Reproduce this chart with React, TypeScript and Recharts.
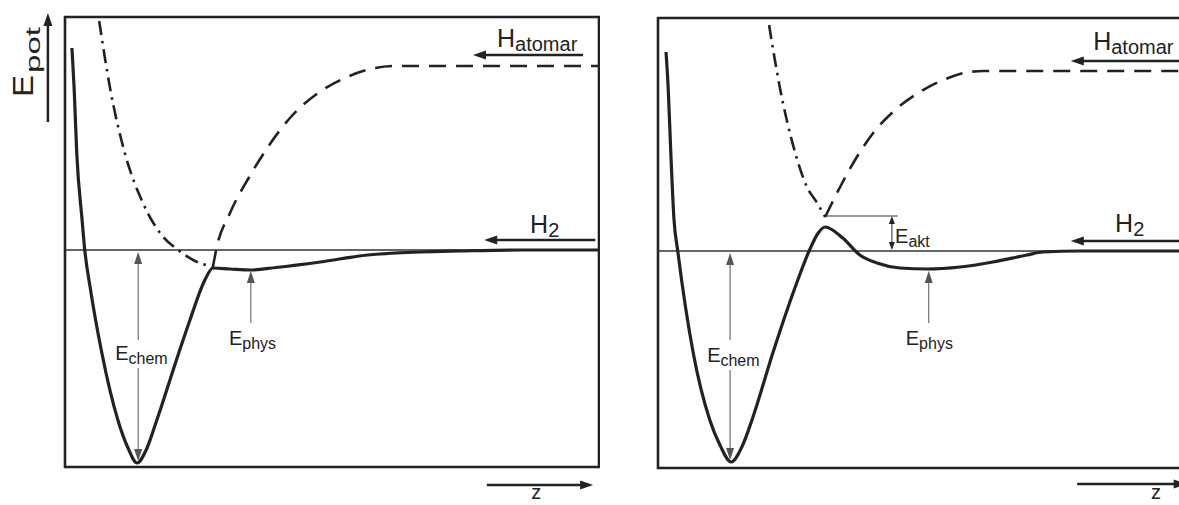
import React from 'react';
import { LineChart, Line, XAxis, YAxis, ReferenceArea, ReferenceLine, ReferenceDot } from 'recharts';

type Pt = { z: number; e: number };

const INK = '#222';
const THIN = '#555';
const FONT = '"Liberation Sans", Arial, Helvetica, sans-serif';

const Z_DOMAIN: [number, number] = [0, 10];
const E_DOMAIN: [number, number] = [-4.34, 4.66];

// left: chemisorption well meets the physisorption well below the H2 level
const leftSolid: Pt[] = [
  { z: 0.13, e: 4.04 }, { z: 0.17, e: 3.26 }, { z: 0.22, e: 1.94 }, { z: 0.32, e: 0.6 },
  { z: 0.37, e: 0 }, { z: 0.47, e: -0.74 }, { z: 0.69, e: -2.06 }, { z: 0.99, e: -3.4 },
  { z: 1.18, e: -3.96 }, { z: 1.35, e: -4.26 }, { z: 1.52, e: -4.0 }, { z: 1.72, e: -3.4 },
  { z: 2.13, e: -2.06 }, { z: 2.34, e: -1.4 }, { z: 2.62, e: -0.6 }, { z: 2.77, e: -0.36 },
  { z: 3.09, e: -0.38 }, { z: 3.48, e: -0.4 }, { z: 3.95, e: -0.35 }, { z: 4.78, e: -0.24 },
  { z: 5.67, e: -0.1 }, { z: 6.65, e: -0.04 }, { z: 7.4, e: -0.02 }, { z: 8.52, e: 0 },
  { z: 10, e: 0 },
];
const leftRepulsive: Pt[] = [
  { z: 0.64, e: 4.58 }, { z: 0.84, e: 3.26 }, { z: 1.12, e: 1.94 }, { z: 1.46, e: 0.94 },
  { z: 1.84, e: 0.26 }, { z: 2.12, e: 0 }, { z: 2.4, e: -0.2 }, { z: 2.77, e: -0.34 },
];
const leftAtomic: Pt[] = [
  { z: 2.77, e: -0.34 }, { z: 2.83, e: 0 }, { z: 3.09, e: 0.74 }, { z: 3.45, e: 1.46 },
  { z: 3.8, e: 2.06 }, { z: 4.23, e: 2.66 }, { z: 4.74, e: 3.14 }, { z: 5.24, e: 3.44 },
  { z: 5.81, e: 3.64 }, { z: 6.18, e: 3.68 }, { z: 10, e: 3.68 },
];

// right: the crossing lies above the H2 level, giving an activation barrier
const rightSolid: Pt[] = [
  { z: 0.15, e: 3.98 }, { z: 0.19, e: 3.28 }, { z: 0.24, e: 1.96 }, { z: 0.3, e: 0.62 },
  { z: 0.37, e: 0 }, { z: 0.66, e: -2.04 }, { z: 0.97, e: -3.38 }, { z: 1.16, e: -3.88 },
  { z: 1.37, e: -4.22 }, { z: 1.57, e: -3.92 }, { z: 1.76, e: -3.38 }, { z: 2.15, e: -2.04 },
  { z: 2.57, e: -0.72 }, { z: 2.83, e: 0 }, { z: 3.0, e: 0.36 }, { z: 3.13, e: 0.48 },
  { z: 3.46, e: 0.26 }, { z: 3.78, e: -0.08 }, { z: 4.1, e: -0.24 }, { z: 4.53, e: -0.34 },
  { z: 5.04, e: -0.36 }, { z: 5.66, e: -0.32 }, { z: 6.27, e: -0.22 }, { z: 6.91, e: -0.08 },
  { z: 7.21, e: -0.02 }, { z: 7.9, e: 0 }, { z: 10, e: 0 },
];
const rightRepulsive: Pt[] = [
  { z: 2.08, e: 4.52 }, { z: 2.28, e: 3.28 }, { z: 2.57, e: 1.96 }, { z: 2.79, e: 1.28 },
  { z: 2.98, e: 0.96 }, { z: 3.13, e: 0.68 },
];
const rightAtomic: Pt[] = [
  { z: 3.13, e: 0.68 }, { z: 3.41, e: 1.28 }, { z: 3.69, e: 1.82 }, { z: 4.03, e: 2.36 },
  { z: 4.44, e: 2.82 }, { z: 4.87, e: 3.16 }, { z: 5.34, e: 3.42 }, { z: 5.82, e: 3.58 },
  { z: 6.1, e: 3.6 }, { z: 10, e: 3.6 },
];

type Note = { z: number; e: number; main: string; sub: string; kind: 'big' | 'small' | 'axis' };
type Arrow = { from: Pt; to: Pt; heads: 'end' | 'both'; kind: 'bold' | 'thin' | 'tiny' };

const leftNotes: Note[] = [
  { z: 8.09, e: 4.06, main: 'H', sub: 'atomar', kind: 'big' },
  { z: 8.71, e: 0.34, main: 'H', sub: '2', kind: 'big' },
  { z: 0.94, e: -2.2, main: 'E', sub: 'chem', kind: 'small' },
  { z: 3.07, e: -1.9, main: 'E', sub: 'phys', kind: 'small' },
  { z: 8.73, e: -4.98, main: 'z', sub: '', kind: 'axis' },
];
const rightNotes: Note[] = [
  { z: 8.15, e: 4.02, main: 'H', sub: 'atomar', kind: 'big' },
  { z: 8.56, e: 0.38, main: 'H', sub: '2', kind: 'big' },
  { z: 0.92, e: -2.22, main: 'E', sub: 'chem', kind: 'small' },
  { z: 4.64, e: -1.88, main: 'E', sub: 'phys', kind: 'small' },
  { z: 4.44, e: 0.16, main: 'E', sub: 'akt', kind: 'small' },
  { z: 9.23, e: -4.96, main: 'z', sub: '', kind: 'axis' },
];

const leftArrows: Arrow[] = [
  { from: { z: 9.7, e: 3.9 }, to: { z: 7.64, e: 3.9 }, heads: 'end', kind: 'bold' },
  { from: { z: 9.93, e: 0.2 }, to: { z: 7.85, e: 0.2 }, heads: 'end', kind: 'bold' },
  { from: { z: 1.37, e: -1.8 }, to: { z: 1.37, e: -0.04 }, heads: 'end', kind: 'thin' },
  { from: { z: 1.37, e: -2.36 }, to: { z: 1.37, e: -4.22 }, heads: 'end', kind: 'thin' },
  { from: { z: 3.48, e: -1.46 }, to: { z: 3.48, e: -0.42 }, heads: 'end', kind: 'thin' },
  { from: { z: 7.9, e: -4.7 }, to: { z: 9.89, e: -4.7 }, heads: 'end', kind: 'bold' },
  { from: { z: -0.32, e: 2.56 }, to: { z: -0.32, e: 4.74 }, heads: 'end', kind: 'bold' },
];
const rightArrows: Arrow[] = [
  { from: { z: 9.9, e: 3.8 }, to: { z: 7.73, e: 3.8 }, heads: 'end', kind: 'bold' },
  { from: { z: 9.9, e: 0.2 }, to: { z: 7.73, e: 0.2 }, heads: 'end', kind: 'bold' },
  { from: { z: 1.35, e: -1.78 }, to: { z: 1.35, e: -0.04 }, heads: 'end', kind: 'thin' },
  { from: { z: 1.35, e: -2.38 }, to: { z: 1.35, e: -4.18 }, heads: 'end', kind: 'thin' },
  { from: { z: 5.07, e: -1.44 }, to: { z: 5.07, e: -0.4 }, heads: 'end', kind: 'thin' },
  { from: { z: 4.38, e: 0.7 }, to: { z: 4.38, e: 0.02 }, heads: 'both', kind: 'tiny' },
  { from: { z: 7.85, e: -4.66 }, to: { z: 9.9, e: -4.66 }, heads: 'end', kind: 'bold' },
];
// level of the curve crossing, marked next to the barrier
const rightBarrierTop: Pt[] = [{ z: 3.13, e: 0.7 }, { z: 4.49, e: 0.7 }];

const arrowStyle = {
  bold: { color: INK, width: 2.5, len: 13, half: 4.5 },
  thin: { color: THIN, width: 1, len: 12, half: 4 },
  tiny: { color: INK, width: 1, len: 8, half: 3 },
};

const arrowShape = (a: Arrow) => (p: any) => {
  const st = arrowStyle[a.kind];
  const { x1, y1, x2, y2 } = p;
  const d = Math.hypot(x2 - x1, y2 - y1) || 1;
  const ux = (x2 - x1) / d;
  const uy = (y2 - y1) / d;
  const head = (tx: number, ty: number, sx: number, sy: number) => {
    const bx = tx - sx * st.len;
    const by = ty - sy * st.len;
    return `${tx},${ty} ${bx - sy * st.half},${by + sx * st.half} ${bx + sy * st.half},${by - sx * st.half}`;
  };
  const sx = a.heads === 'both' ? x1 + ux * st.len * 0.8 : x1;
  const sy = a.heads === 'both' ? y1 + uy * st.len * 0.8 : y1;
  return (
    <g>
      <line x1={sx} y1={sy} x2={x2 - ux * st.len * 0.8} y2={y2 - uy * st.len * 0.8} stroke={st.color} strokeWidth={st.width} />
      <polygon points={head(x2, y2, ux, uy)} fill={st.color} />
      {a.heads === 'both' && <polygon points={head(x1, y1, -ux, -uy)} fill={st.color} />}
    </g>
  );
};

const noteStyle = {
  big: { size: 25, subSize: 20, drop: 4 },
  small: { size: 20, subSize: 16, drop: 4 },
  axis: { size: 20, subSize: 16, drop: 0 },
};

const noteShape = (n: Note) => (p: any) => {
  const st = noteStyle[n.kind];
  const w = n.main === 'H' ? 0.722 * st.size : n.main === 'E' ? 0.667 * st.size : 0.5 * st.size;
  return (
    <g fontFamily={FONT} fill={INK}>
      <text x={p.cx} y={p.cy} fontSize={st.size}>{n.main}</text>
      {n.sub && (
        <text x={p.cx + w} y={p.cy + st.drop} fontSize={st.subSize}>{n.sub}</text>
      )}
    </g>
  );
};

// rotated energy-axis title
const epotShape = (p: any) => (
  <g transform={`translate(${p.cx},${p.cy}) rotate(-90)`} fontFamily={FONT} fill={INK}>
    <text x={0} y={0} fontSize={29} textLength={22} lengthAdjust="spacingAndGlyphs">E</text>
    <text x={24} y={7} fontSize={21} textLength={46} lengthAdjust="spacingAndGlyphs">pot</text>
  </g>
);

const curveProps = {
  type: 'monotone' as const,
  dataKey: 'e',
  dot: false,
  activeDot: false,
  stroke: INK,
  isAnimationActive: false,
  strokeLinejoin: 'round' as const,
};

interface PanelProps {
  solid: Pt[];
  repulsive: Pt[];
  atomic: Pt[];
  notes: Note[];
  arrows: Arrow[];
  margin: { top: number; right: number; bottom: number; left: number };
  barrierTop?: Pt[];
  showEpot?: boolean;
}

const Panel: React.FC<PanelProps> = ({ solid, repulsive, atomic, notes, arrows, margin, barrierTop, showEpot }) => (
  <LineChart width={600} height={505} margin={margin}>
    <XAxis type="number" dataKey="z" domain={Z_DOMAIN} hide allowDataOverflow />
    <YAxis type="number" domain={E_DOMAIN} hide allowDataOverflow />
    <ReferenceArea
      x1={Z_DOMAIN[0]} x2={Z_DOMAIN[1]} y1={E_DOMAIN[0]} y2={E_DOMAIN[1]}
      fill="none" fillOpacity={0} stroke={INK} strokeWidth={2.6} ifOverflow="visible"
    />
    <ReferenceLine y={0} stroke="#333" strokeWidth={1.5} />
    {barrierTop && (
      <ReferenceLine
        segment={barrierTop.map((p) => ({ x: p.z, y: p.e }))}
        stroke="#333" strokeWidth={1.2} ifOverflow="visible"
      />
    )}
    <Line {...curveProps} data={repulsive} strokeWidth={2.6} strokeDasharray="14 6 2.5 6" />
    <Line {...curveProps} data={atomic} strokeWidth={2.6} strokeDasharray="17 10" />
    <Line {...curveProps} data={solid} strokeWidth={3.2} />
    {arrows.map((a, i) => (
      <ReferenceLine
        key={`a-${i}`}
        segment={[{ x: a.from.z, y: a.from.e }, { x: a.to.z, y: a.to.e }]}
        ifOverflow="visible"
        shape={arrowShape(a)}
      />
    ))}
    {notes.map((n, i) => (
      <ReferenceDot key={`n-${i}`} x={n.z} y={n.e} r={0} ifOverflow="visible" shape={noteShape(n)} />
    ))}
    {showEpot && <ReferenceDot x={-0.6} y={3.06} r={0} ifOverflow="visible" shape={epotShape} />}
  </LineChart>
);

export default function App() {
  return (
    <div style={{ position: 'fixed', left: 0, top: 0, width: 1179, height: 505, overflow: 'hidden', background: '#fff' }}>
      <div style={{ position: 'absolute', left: 0, top: 0 }}>
        <Panel
          solid={leftSolid}
          repulsive={leftRepulsive}
          atomic={leftAtomic}
          notes={leftNotes}
          arrows={leftArrows}
          margin={{ top: 17, right: 1, bottom: 38, left: 65 }}
          showEpot
        />
      </div>
      <div style={{ position: 'absolute', left: 600, top: 0 }}>
        <Panel
          solid={rightSolid}
          repulsive={rightRepulsive}
          atomic={rightAtomic}
          notes={rightNotes}
          arrows={rightArrows}
          margin={{ top: 18, right: 8, bottom: 37, left: 58 }}
          barrierTop={rightBarrierTop}
        />
      </div>
    </div>
  );
}
